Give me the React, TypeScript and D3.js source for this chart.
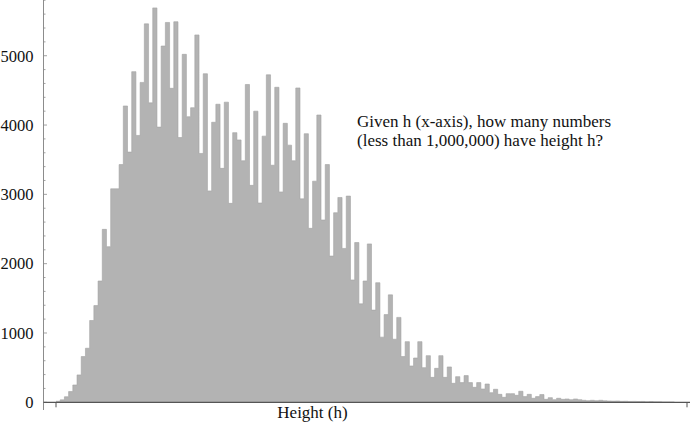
import { useMemo } from 'react';
import * as d3 from 'd3';

// counts per bin (bin index 0 = leftmost bar)
const counts: number[] = [
  15, 35, 80, 155, 250, 395, 660, 780, 1180, 1395,
  1750, 2495, 2245, 3080, 3080, 3430, 4275, 3610, 4770, 3850,
  4615, 5460, 4320, 5690, 3970, 5140, 5480, 4530, 5490, 3820,
  5020, 4120, 4250, 5300, 3590, 4740, 3050, 4040, 4300, 3375,
  4330, 2870, 3890, 3785, 3485, 4585, 3130, 4200, 2875, 3840,
  4725, 3420, 4545, 3035, 4025, 3710, 3485, 4535, 2935, 3875,
  2510, 3190, 4145, 2630, 3430, 2110, 2735, 2955, 2220, 2975,
  1765, 2305, 1420, 1750, 2285, 1330, 1725, 940, 1265, 1550,
  910, 1225, 660, 875, 524, 639, 875, 500, 673, 360,
  490, 673, 360, 510, 274, 370, 284, 385, 284, 216,
  284, 192, 264, 139, 188, 115, 72, 125, 125, 101,
  159, 82, 115, 58, 82, 111, 43, 67, 38, 58,
  43, 48, 38, 48, 38, 29, 24, 29, 24, 29,
  22, 19, 17, 19, 14, 15, 12, 13, 11, 12,
  9, 10, 8, 8, 6, 6, 5,
];

const yMajorTicks: number[] = [0, 1000, 2000, 3000, 4000, 5000];
const xLabel = 'Height (h)';
const noteLines: string[] = [
  'Given h (x-axis), how many numbers',
  '(less than 1,000,000) have height h?',
];

const W = 690;
const H = 428;
const serif = {
  fontFamily:
    "'Liberation Serif', 'Times New Roman', Tinos, 'DejaVu Serif', 'Noto Serif', FreeSerif, serif",
};

export default function App() {
  const x = useMemo(() => d3.scaleLinear().domain([0, 150]).range([56, 687]), []);
  const y = useMemo(() => d3.scaleLinear().domain([0, 5804]).range([402.3, 0]), []);
  const minorTicks = d3.range(0, 5801, 200);
  const axisX = 43.5;
  const base = y(0);

  // each bar's top as a step: start of bin i at count i, closing point at the last bin's end
  const steps: [number, number][] = [
    ...counts.map((c, i) => [i, c] as [number, number]),
    [counts.length, counts[counts.length - 1]],
  ];

  const area = d3
    .area<[number, number]>()
    .x((d) => x(d[0]))
    .y0(base)
    .y1((d) => y(d[1]))
    .curve(d3.curveStepAfter)(steps);

  const outline = d3
    .line<[number, number]>()
    .x((d) => x(d[0]))
    .y((d) => y(d[1]))
    .curve(d3.curveStepAfter)(steps);

  return (
    <svg
      width={W}
      height={H}
      viewBox={`0 0 ${W} ${H}`}
      style={{ position: 'absolute', left: 0, top: 0, background: '#fff' }}
    >
      {/* bars */}
      <path d={area ?? ''} fill="#b3b3b3" />
      <path d={outline ?? ''} fill="none" stroke="#a2a2a2" strokeWidth={0.6} />

      {/* y axis */}
      <line x1={axisX} x2={axisX} y1={0} y2={410} stroke="#8c8c8c" strokeWidth={1} />
      {minorTicks.map((t) => (
        <line
          key={t}
          x1={axisX}
          x2={axisX + (t % 1000 === 0 ? 3.5 : 2)}
          y1={y(t)}
          y2={y(t)}
          stroke="#8c8c8c"
          strokeWidth={0.8}
        />
      ))}
      {yMajorTicks.map((t) => (
        <text
          key={t}
          x={33.5}
          y={y(t)}
          dy="0.35em"
          textAnchor="end"
          fontSize={16.5}
          fill="#111"
          style={serif}
        >
          {t}
        </text>
      ))}

      {/* x axis */}
      <line x1={axisX} x2={690} y1={base} y2={base} stroke="#555" strokeWidth={1.2} />
      {[0, 150].map((t) => (
        <line key={t} x1={x(t)} x2={x(t)} y1={base} y2={base + 5} stroke="#555" strokeWidth={1} />
      ))}
      <text x={312.5} y={418} textAnchor="middle" fontSize={17} fill="#111" style={serif}>
        {xLabel}
      </text>

      {/* annotation */}
      {noteLines.map((l, i) => (
        <text key={i} x={357} y={127 + i * 18.7} fontSize={17} fill="#111" style={serif}>
          {l}
        </text>
      ))}
    </svg>
  );
}
